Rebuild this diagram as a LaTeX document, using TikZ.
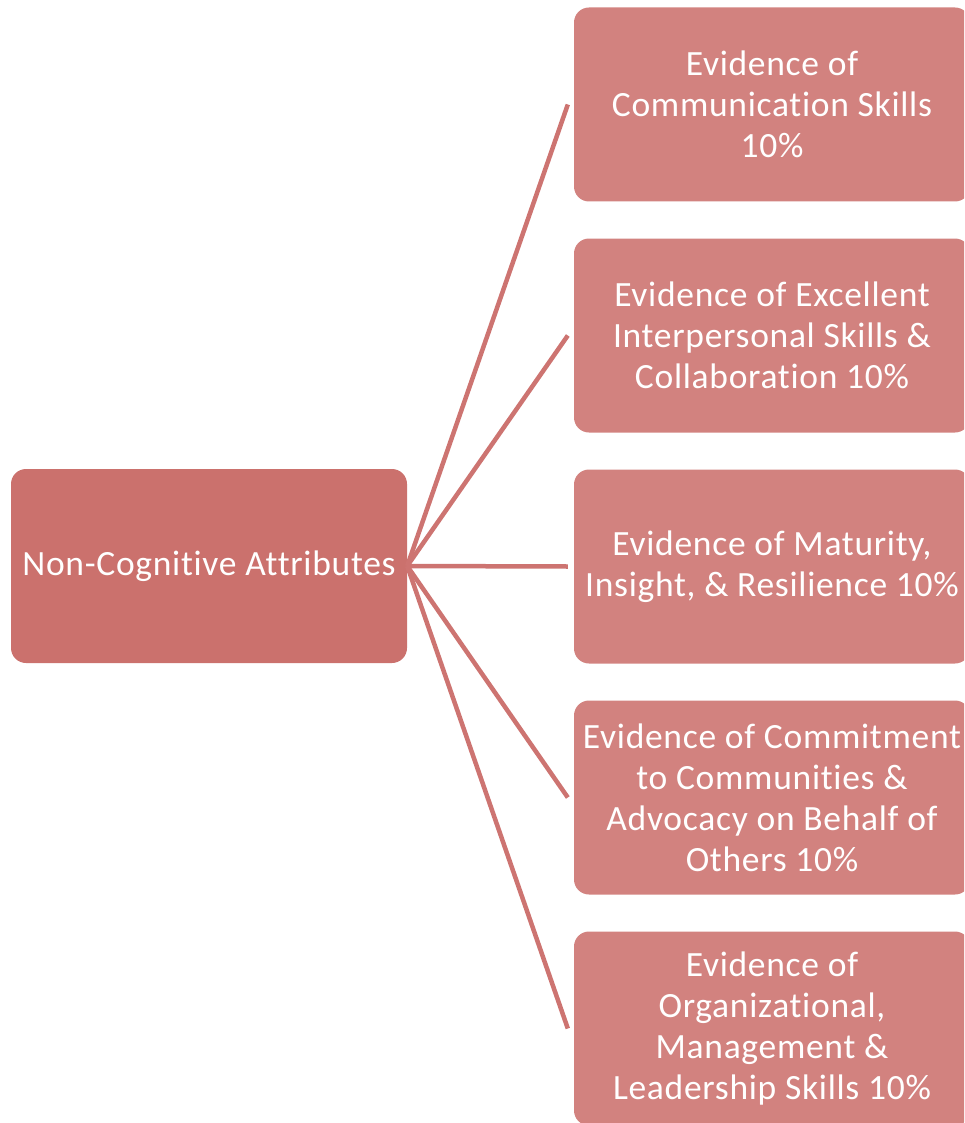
\documentclass[tikz,border=0pt]{standalone}
\usepackage{fontspec}
\setmainfont[Ligatures=NoCommon,LetterSpace=2]{Carlito}
\definecolor{mainfill}{HTML}{CB716D}
\definecolor{subfill}{HTML}{D2827F}
\definecolor{linkcol}{HTML}{CD7471}
\begin{document}
\begin{tikzpicture}[x=1pt,y=1pt,
  box/.style={rectangle, rounded corners=15pt, draw=none, text=white,
    align=center, inner sep=0pt, minimum width=396pt, minimum height=194pt,
    font=\fontsize{35.5}{41}\selectfont},
  mainbox/.style={box, fill=mainfill},
  subbox/.style={box, fill=subfill},
  link/.style={draw=linkcol, line width=4.5pt}]
\useasboundingbox (0,0) rectangle (964,-1123);
\clip (0,0) rectangle (964,-1123);
\node[mainbox] (L) at (209,-566) {Non-Cognitive Attributes};
\node[subbox] (R1) at (772,-104.5) {Evidence of\\Communication Skills\\10\%};
\node[subbox] (R2) at (772,-335.5) {Evidence of Excellent\\Interpersonal Skills \&\\Collaboration 10\%};
\node[subbox] (R3) at (772,-566.5) {Evidence of Maturity,\\Insight, \& Resilience 10\%};
\node[subbox] (R4) at (772,-797.5) {Evidence of Commitment\\to Communities \&\\Advocacy on Behalf of\\Others 10\%};
\node[subbox] (R5) at (772,-1028.5) {Evidence of\\Organizational,\\Management \&\\Leadership Skills 10\%};
\foreach \r in {R1,R2,R3,R4,R5}
  \draw[link] (L.east) -- ([xshift=-6pt]\r.west);
\end{tikzpicture}
\end{document}
